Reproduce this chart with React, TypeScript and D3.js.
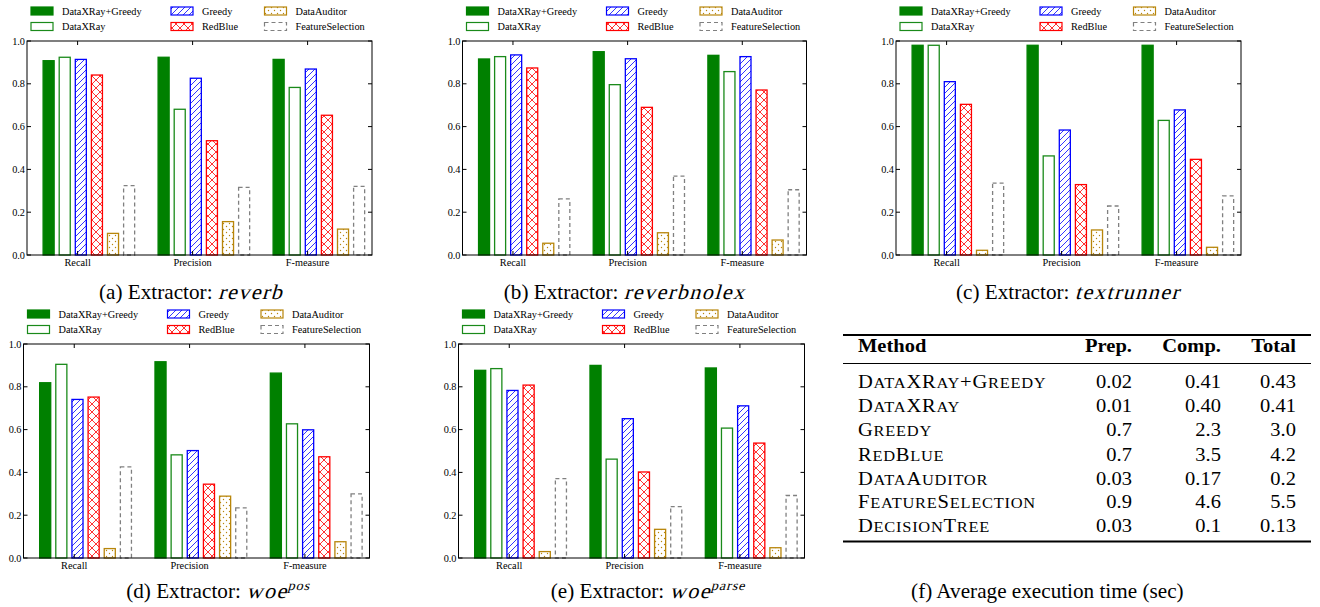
import * as d3 from "d3";

// methods in legend / bar order
const methods = ["DataXRay+Greedy", "DataXRay", "Greedy", "RedBlue", "DataAuditor", "FeatureSelection"];
const metrics = ["Recall", "Precision", "F-measure"];

// scores per extractor: [metric][method]
const reverb = [
  [0.908, 0.924, 0.914, 0.841, 0.101, 0.324],
  [0.924, 0.681, 0.826, 0.534, 0.156, 0.316],
  [0.914, 0.783, 0.869, 0.653, 0.121, 0.321],
];
const reverbnolex = [
  [0.916, 0.927, 0.935, 0.874, 0.055, 0.262],
  [0.95, 0.796, 0.917, 0.69, 0.104, 0.369],
  [0.933, 0.857, 0.927, 0.771, 0.07, 0.305],
];
const textrunner = [
  [0.98, 0.98, 0.81, 0.704, 0.022, 0.336],
  [0.98, 0.463, 0.584, 0.329, 0.117, 0.229],
  [0.98, 0.629, 0.678, 0.447, 0.036, 0.276],
];
const woePos = [
  [0.819, 0.905, 0.741, 0.752, 0.044, 0.426],
  [0.917, 0.482, 0.502, 0.345, 0.289, 0.234],
  [0.864, 0.627, 0.599, 0.473, 0.076, 0.3],
];
const woeParse = [
  [0.877, 0.885, 0.783, 0.808, 0.03, 0.371],
  [0.9, 0.462, 0.651, 0.402, 0.134, 0.24],
  [0.888, 0.607, 0.711, 0.537, 0.048, 0.292],
];

// table (f)
const tableMethods = ["DataXRay+Greedy", "DataXRay", "Greedy", "RedBlue", "DataAuditor", "FeatureSelection", "DecisionTree"];
const tableHeader = ["Prep.", "Comp.", "Total"];
const tablePrep = ["0.02", "0.01", "0.7", "0.7", "0.03", "0.9", "0.03"];
const tableComp = ["0.41", "0.40", "2.3", "3.5", "0.17", "4.6", "0.1"];
const tableTotal = ["0.43", "0.41", "3.0", "4.2", "0.2", "5.5", "0.13"];

const SERIF = "'Liberation Serif', 'Times New Roman', serif";

const methodStyles = [
  { fill: "#008000", stroke: "#008000", dash: null },
  { fill: "#ffffff", stroke: "#1a8a1a", dash: null },
  { fill: "url(#hatchSlash)", stroke: "#0000ff", dash: null },
  { fill: "url(#hatchCross)", stroke: "#ff0000", dash: null },
  { fill: "url(#hatchDots)", stroke: "#b8860b", dash: null },
  { fill: "none", stroke: "#808080", dash: "4,3" },
];

// canvas is only used to measure caption pieces
const measureCtx = document.createElement("canvas").getContext("2d");
function textWidth(s: string, size: number) {
  if (!measureCtx || !s) return 0;
  measureCtx.font = `${size}px 'Liberation Serif'`;
  return measureCtx.measureText(s).width;
}

function Patterns() {
  return (
    <defs>
      <pattern id="hatchSlash" patternUnits="userSpaceOnUse" width={6} height={6}>
        <rect width={6} height={6} fill="#fff" />
        <path d="M0,6 L6,0 M-1.5,1.5 L1.5,-1.5 M4.5,7.5 L7.5,4.5" stroke="#0000ff" strokeWidth={0.8} />
      </pattern>
      <pattern id="hatchCross" patternUnits="userSpaceOnUse" width={8} height={8}>
        <rect width={8} height={8} fill="#fff" />
        <path d="M0,0 L8,8 M8,0 L0,8" stroke="#ff0000" strokeWidth={0.8} />
      </pattern>
      <pattern id="hatchDots" patternUnits="userSpaceOnUse" width={6} height={6}>
        <rect width={6} height={6} fill="#fff" />
        <circle cx={1.5} cy={1.5} r={0.7} fill="#b8860b" />
        <circle cx={4.5} cy={4.5} r={0.7} fill="#b8860b" />
      </pattern>
    </defs>
  );
}

function Legend({ left, top }) {
  const cols = [0, 140, 233.5];
  return (
    <g>
      {methods.map((m, i) => {
        const col = Math.floor(i / 2);
        const row = i % 2;
        const sx = left + 4 + cols[col];
        const cy = top - 30 + row * 15.5;
        const st = methodStyles[i];
        return (
          <g key={m}>
            <rect x={sx} y={cy - 4} width={22} height={8} fill={st.fill} stroke={st.stroke}
              strokeWidth={1.2} strokeDasharray={st.dash || undefined} />
            <text x={sx + 31} y={cy + 3.5} fontSize={10.3} fontFamily={SERIF} fill="#000">{m}</text>
          </g>
        );
      })}
    </g>
  );
}

function BarPanel({ box, scores }) {
  const x = d3.scaleLinear().domain([-0.14, 2.86]).range([box.left, box.right]);
  const y = d3.scaleLinear().domain([0, 1]).range([box.bottom, box.top]);
  const step = 0.14;
  const bw = 0.096;
  const yTicks = y.ticks(5);
  const fmt = d3.format(".1f");
  return (
    <g>
      <Legend left={box.left} top={box.top} />
      {scores.map((group, gi) =>
        group.map((v, mi) => {
          const st = methodStyles[mi];
          const x0 = x(gi + mi * step);
          const w = x(gi + mi * step + bw) - x0;
          return (
            <rect key={gi + "-" + mi} x={x0} y={y(v)} width={w} height={y(0) - y(v)}
              fill={st.fill} stroke={st.stroke} strokeWidth={1.3}
              strokeDasharray={st.dash || undefined} />
          );
        })
      )}
      <rect x={box.left} y={box.top} width={box.right - box.left} height={box.bottom - box.top}
        fill="none" stroke="#000" strokeWidth={1} />
      {yTicks.map((t) => (
        <g key={t}>
          <line x1={box.left} x2={box.left + 4} y1={y(t)} y2={y(t)} stroke="#000" />
          <line x1={box.right} x2={box.right - 4} y1={y(t)} y2={y(t)} stroke="#000" />
          <text x={box.left - 2} y={y(t) + 3.5} textAnchor="end" fontSize={10.3} fontFamily={SERIF}>{fmt(t)}</text>
        </g>
      ))}
      {metrics.map((m, i) => {
        const tx = x(i + 0.3);
        return (
          <g key={m}>
            <line x1={tx} x2={tx} y1={box.top} y2={box.top + 4} stroke="#000" />
            <line x1={tx} x2={tx} y1={box.bottom} y2={box.bottom - 4} stroke="#000" />
            <text x={tx} y={box.bottom + 11} textAnchor="middle" fontSize={10.3} fontFamily={SERIF}>{m}</text>
          </g>
        );
      })}
    </g>
  );
}

// caption: roman label + slanted "math" name (+ optional superscript)
function Caption({ cx, y, label, name = "", sup = "" }) {
  const size = 20;
  const mSize = 21;
  const ls = 1.3;
  const supSize = 13.5;
  const lw = textWidth(label, size);
  const mw = name ? textWidth(name, mSize) + name.length * ls : 0;
  const sw = sup ? textWidth(sup, supSize) + sup.length * 0.8 : 0;
  const x0 = -(lw + mw + sw) / 2;
  return (
    <g transform={`translate(${cx},${y}) scale(1.06,1)`} fontFamily={SERIF} fill="#000">
      <text x={x0} y={0} fontSize={size}>{label}</text>
      {name ? (
        <text transform={`translate(${x0 + lw},0) skewX(-15)`} fontSize={mSize} letterSpacing={ls}>{name}</text>
      ) : null}
      {sup ? (
        <text transform={`translate(${x0 + lw + mw},-8) skewX(-15)`} fontSize={supSize} letterSpacing={0.8}>{sup}</text>
      ) : null}
    </g>
  );
}

// hand-made small caps: capitals at full size, lower case as smaller capitals
function SmallCaps({ text, size }) {
  const runs = [];
  for (const ch of text) {
    const lower = ch !== ch.toUpperCase();
    const last = runs[runs.length - 1];
    if (last && last.lower === lower) last.s += ch;
    else runs.push({ lower, s: ch });
  }
  return (
    <>
      {runs.map((r, i) => (
        <tspan key={i} fontSize={r.lower ? size * 0.8 : size}>{r.lower ? r.s.toUpperCase() : r.s}</tspan>
      ))}
    </>
  );
}

function Stretched({ x, y, anchor, children, ...rest }) {
  return (
    <g transform={`translate(${x},${y}) scale(1.08,1)`}>
      <text x={0} y={0} textAnchor={anchor} {...rest}>{children}</text>
    </g>
  );
}

function TimeTable() {
  const left = 843;
  const right = 1311;
  const colRight = [1132, 1221, 1296];
  const rowY = [381.7, 406, 430, 454.3, 478.3, 501.7, 526];
  const cols = [tablePrep, tableComp, tableTotal];
  return (
    <g fontFamily={SERIF}>
      <line x1={left} x2={right} y1={335} y2={335} stroke="#000" strokeWidth={2} />
      <line x1={left} x2={right} y1={363.5} y2={363.5} stroke="#000" strokeWidth={1} />
      <line x1={left} x2={right} y1={541.5} y2={541.5} stroke="#000" strokeWidth={2} />
      <Stretched x={858} y={352} anchor="start" fontSize={19} fontWeight="bold">Method</Stretched>
      {tableHeader.map((h, i) => (
        <Stretched key={h} x={colRight[i]} y={352} anchor="end" fontSize={19} fontWeight="bold">{h}</Stretched>
      ))}
      {tableMethods.map((m, i) => (
        <g key={m}>
          <Stretched x={858} y={rowY[i] + 6.3} anchor="start" fontSize={19} letterSpacing={0.7}>
            <SmallCaps text={m} size={19} />
          </Stretched>
          {cols.map((c, j) => (
            <Stretched key={j} x={colRight[j]} y={rowY[i] + 6.3} anchor="end" fontSize={19}>{c[i]}</Stretched>
          ))}
        </g>
      ))}
    </g>
  );
}

export default function App() {
  return (
    <svg width={1320} height={607} viewBox="0 0 1320 607"
      style={{ position: "absolute", left: 0, top: 0, background: "#fff" }}>
      <Patterns />
      <rect width={1320} height={607} fill="#fff" />
      <BarPanel box={{ left: 27, right: 372, top: 41, bottom: 255 }} scores={reverb} />
      <BarPanel box={{ left: 462.5, right: 806.5, top: 41, bottom: 255 }} scores={reverbnolex} />
      <BarPanel box={{ left: 896, right: 1241, top: 41, bottom: 255 }} scores={textrunner} />
      <BarPanel box={{ left: 23.5, right: 369.5, top: 344, bottom: 558 }} scores={woePos} />
      <BarPanel box={{ left: 458.5, right: 804.5, top: 344, bottom: 558 }} scores={woeParse} />
      <Caption cx={191} y={299} label="(a) Extractor: " name="reverb" />
      <Caption cx={624.5} y={299} label="(b) Extractor: " name="reverbnolex" />
      <Caption cx={1068} y={299} label="(c) Extractor: " name="textrunner" />
      <Caption cx={218} y={598} label="(d) Extractor: " name="woe" sup="pos" />
      <Caption cx={648} y={598} label="(e) Extractor: " name="woe" sup="parse" />
      <Caption cx={1048} y={598} label="(f) Average execution time (sec)" />
      <TimeTable />
    </svg>
  );
}
